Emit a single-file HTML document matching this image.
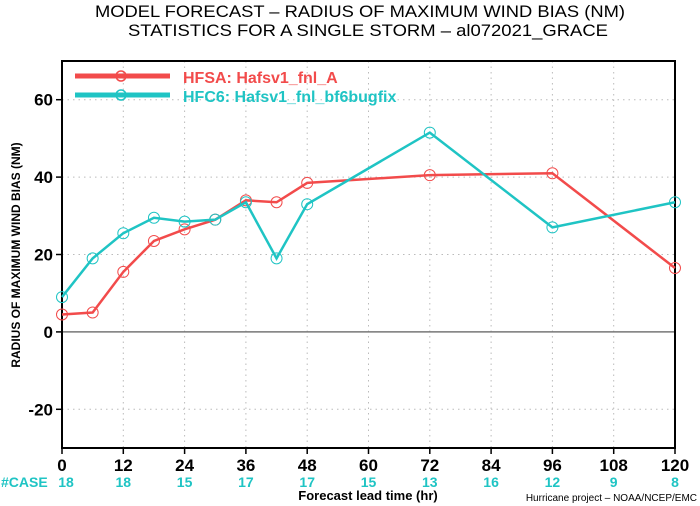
<!DOCTYPE html>
<html><head><meta charset="utf-8"><style>
body{margin:0;background:#fff;}
svg{display:block;font-family:"Liberation Sans",sans-serif;}
</style></head><body>
<svg width="700" height="506" viewBox="0 0 700 506">
<text x="360" y="17" text-anchor="middle" font-size="17" textLength="530" lengthAdjust="spacingAndGlyphs">MODEL FORECAST – RADIUS OF MAXIMUM WIND BIAS (NM)</text>
<text x="368" y="36" text-anchor="middle" font-size="17" textLength="480" lengthAdjust="spacingAndGlyphs">STATISTICS FOR A SINGLE STORM – al072021_GRACE</text>
<g id="grid"></g>
<g id="axes"></g>
<g id="series"></g>
<g id="legend">
<line x1="75" y1="76" x2="170" y2="76" stroke="#f24b4b" stroke-width="5"/>
<circle cx="121" cy="76" r="5" fill="none" stroke="#f24b4b" stroke-width="1.5"/>
<text x="183" y="83" font-size="16" font-weight="bold" fill="#f24b4b">HFSA:  Hafsv1_fnl_A</text>
<line x1="75" y1="95" x2="170" y2="95" stroke="#1fc4c4" stroke-width="5"/>
<circle cx="121" cy="95" r="5" fill="none" stroke="#1fc4c4" stroke-width="1.5"/>
<text x="183" y="102" font-size="16" font-weight="bold" fill="#1fc4c4">HFC6:  Hafsv1_fnl_bf6bugfix</text>
</g>
<text transform="translate(20,255) rotate(-90)" text-anchor="middle" font-size="12" font-weight="bold">RADIUS OF MAXIMUM WIND BIAS (NM)</text>
<text x="368" y="500" text-anchor="middle" font-size="13" font-weight="bold">Forecast lead time (hr)</text>
<text x="697" y="501" text-anchor="end" font-size="10">Hurricane project – NOAA/NCEP/EMC</text>
<text x="1" y="487" font-size="14" font-weight="bold" fill="#1fc4c4">#CASE</text>
<g id="cases"></g>
</svg>
<script>
const xTicks=[0,12,24,36,48,60,72,84,96,108,120];
const yTicks=[-20,0,20,40,60];
const caseCounts=[18,18,15,17,17,15,13,16,12,9,8];
const hfsaX=[0,6,12,18,24,30,36,42,48,72,96,120];
const hfsaY=[4.5,5,15.5,23.5,26.5,29,34,33.5,38.5,40.5,41,16.5];
const hfc6X=[0,6,12,18,24,30,36,42,48,72,96,120];
const hfc6Y=[9,19,25.5,29.5,28.5,29,33.5,19,33,51.5,27,33.5];
const L=62,R=675,T=61,B=448,xmin=0,xmax=120,ymin=-30,ymax=70;
const X=v=>L+(v-xmin)/(xmax-xmin)*(R-L);
const Y=v=>B-(v-ymin)/(ymax-ymin)*(B-T);
const NS='http://www.w3.org/2000/svg';
function mk(t,a,p){const e=document.createElementNS(NS,t);for(const k in a)e.setAttribute(k,a[k]);p.appendChild(e);return e;}
const g=document.getElementById('grid'),ax=document.getElementById('axes'),s=document.getElementById('series'),cs=document.getElementById('cases');
xTicks.forEach((t,i)=>{
 if(t>0&&t<120){const l=mk('line',{x1:X(t),x2:X(t),y1:T,y2:B,stroke:'#bbb','stroke-dasharray':'1.5,4'},g);
 }
 const tk=mk('line',{x1:X(t),x2:X(t),y1:B,y2:B+6,stroke:'#000','stroke-width':1.5},ax);
 
 const tx=mk('text',{x:X(t),y:471,'text-anchor':'middle','font-size':17,'font-weight':'bold'},ax);tx.textContent=t;
 
 const c=mk('text',{x:X(t)+(i==0?4:0),y:487,'text-anchor':'middle','font-size':14,'font-weight':'bold',fill:'#1fc4c4'},cs);c.textContent=caseCounts[i];
 
});
yTicks.forEach(t=>{
 const l=mk('line',{x1:L,x2:R,y1:Y(t),y2:Y(t),stroke:t==0?'#777':'#bbb','stroke-width':t==0?1.5:1,'stroke-dasharray':t==0?'none':'1.5,4'},g);
 
 const tk=mk('line',{x1:L-6,x2:L,y1:Y(t),y2:Y(t),stroke:'#000','stroke-width':1.5},ax);
 
 const tx=mk('text',{x:L-9,y:Y(t)+6,'text-anchor':'end','font-size':17,'font-weight':'bold'},ax);tx.textContent=t;
 
});
const fr=mk('rect',{x:L,y:T,width:R-L,height:B-T,fill:'none',stroke:'#000','stroke-width':2},ax);

function series(xs,ys,col,name){
 const p=mk('polyline',{points:xs.map((x,i)=>X(x)+','+Y(ys[i])).join(' '),fill:'none',stroke:col,'stroke-width':2.5},s);
 
 xs.forEach((x,i)=>{const c=mk('circle',{cx:X(x),cy:Y(ys[i]),r:5.5,fill:'none',stroke:col,'stroke-width':1},s);
 });
}
series(hfsaX,hfsaY,'#f24b4b','hfsa');
series(hfc6X,hfc6Y,'#1fc4c4','hfc6');
</script>
</body></html>
